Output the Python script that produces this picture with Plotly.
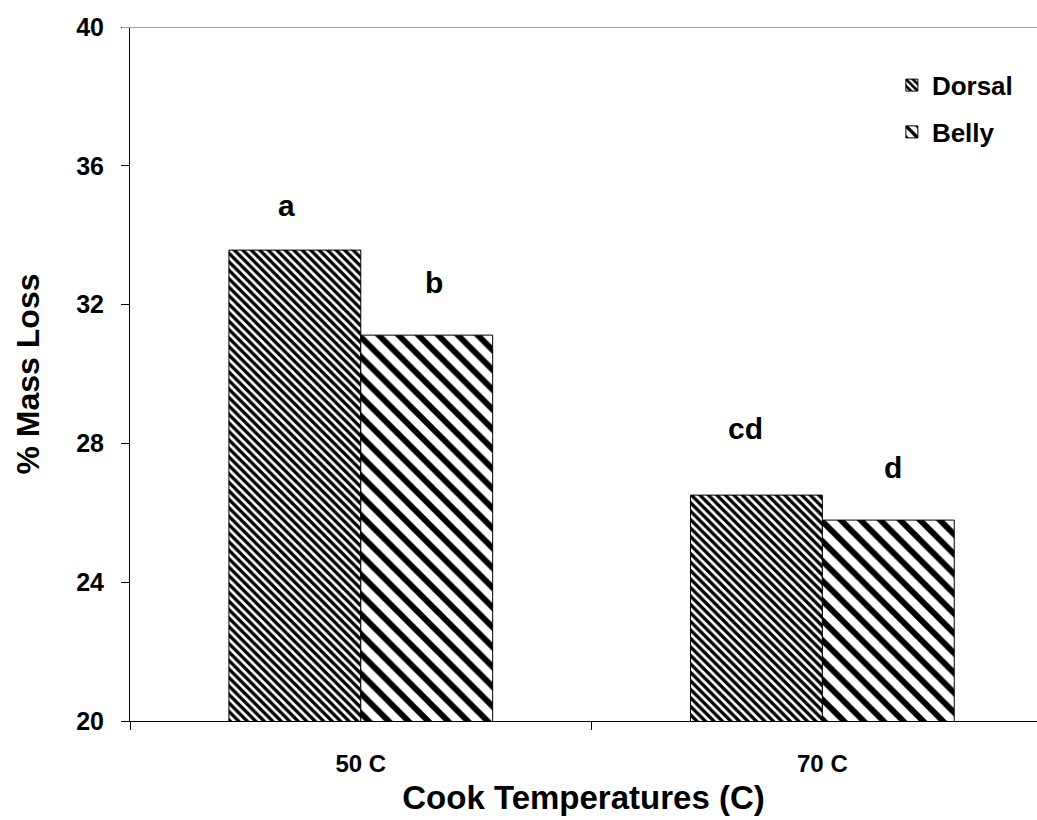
import plotly.graph_objects as go

# Mass loss by cook temperature and fillet region
temperatures = ["50 C", "70 C"]
dorsal = [33.57, 26.51]
belly = [31.12, 25.79]

# Significance letters placed above each bar (category index offset, y value)
letters = ["a", "b", "cd", "d"]
letter_x = [-0.16, 0.158, 0.833, 1.152]
letter_y = [34.87, 32.65, 28.44, 27.32]

FONT = "Arial, 'Liberation Sans', sans-serif"

fig = go.Figure()
fig.add_trace(go.Bar(
    name="Dorsal", x=temperatures, y=dorsal, legendgroup="d",
    marker=dict(color="white", line=dict(color="black", width=1),
                pattern=dict(shape="\\", size=6, solidity=0.55, fillmode="replace",
                             fgcolor="#000000", fgopacity=1, bgcolor="white")),
))
fig.add_trace(go.Bar(
    name="Belly", x=temperatures, y=belly, legendgroup="b",
    marker=dict(color="white", line=dict(color="black", width=1),
                pattern=dict(shape="\\", size=14, solidity=0.42, fillmode="replace",
                             fgcolor="#000000", fgopacity=1, bgcolor="white")),
))

for t, xv, yv in zip(letters, letter_x, letter_y):
    fig.add_annotation(x=xv, y=yv, text=t, showarrow=False,
                       font=dict(family=FONT, size=30, color="black", weight=700))

# light rule along the top of the plot area
fig.add_shape(type="line", xref="paper", yref="y", x0=-0.009, x1=1, y0=40, y1=40,
              line=dict(color="#a6a6a6", width=2), layer="above")

fig.update_layout(
    width=1037, height=820,
    margin=dict(l=130, r=0, t=27, b=99),
    paper_bgcolor="white", plot_bgcolor="white",
    barmode="group", bargap=0.4286, bargroupgap=0,
    font=dict(family=FONT, color="black"),
    showlegend=True,
    legend=dict(x=0.84, y=0.95, xanchor="left", yanchor="top",
                bgcolor="rgba(0,0,0,0)", tracegroupgap=10,
                font=dict(family=FONT, size=26, color="black", weight=700)),
    xaxis=dict(
        type="category", range=[-0.5, 1.465], tickson="boundaries",
        ticks="outside", ticklen=8, tickcolor="black", tickwidth=1,
        showline=True, linecolor="black", linewidth=1,
        showgrid=False, zeroline=False,
        ticklabelstandoff=21,
        tickfont=dict(family=FONT, size=24, color="black", weight=700),
        title=dict(text="Cook Temperatures (C)", standoff=10,
                   font=dict(family=FONT, size=33, color="black", weight=700)),
    ),
    yaxis=dict(
        range=[20, 40], dtick=4, tick0=20,
        ticks="outside", ticklen=8, tickcolor="black", tickwidth=1,
        showline=True, linecolor="black", linewidth=1,
        showgrid=False, zeroline=False,
        ticklabelstandoff=12,
        tickfont=dict(family=FONT, size=25, color="black", weight=700),
        title=dict(text="% Mass Loss", standoff=26,
                   font=dict(family=FONT, size=32, color="black", weight=700)),
    ),
)

fig.write_html("out.html")
